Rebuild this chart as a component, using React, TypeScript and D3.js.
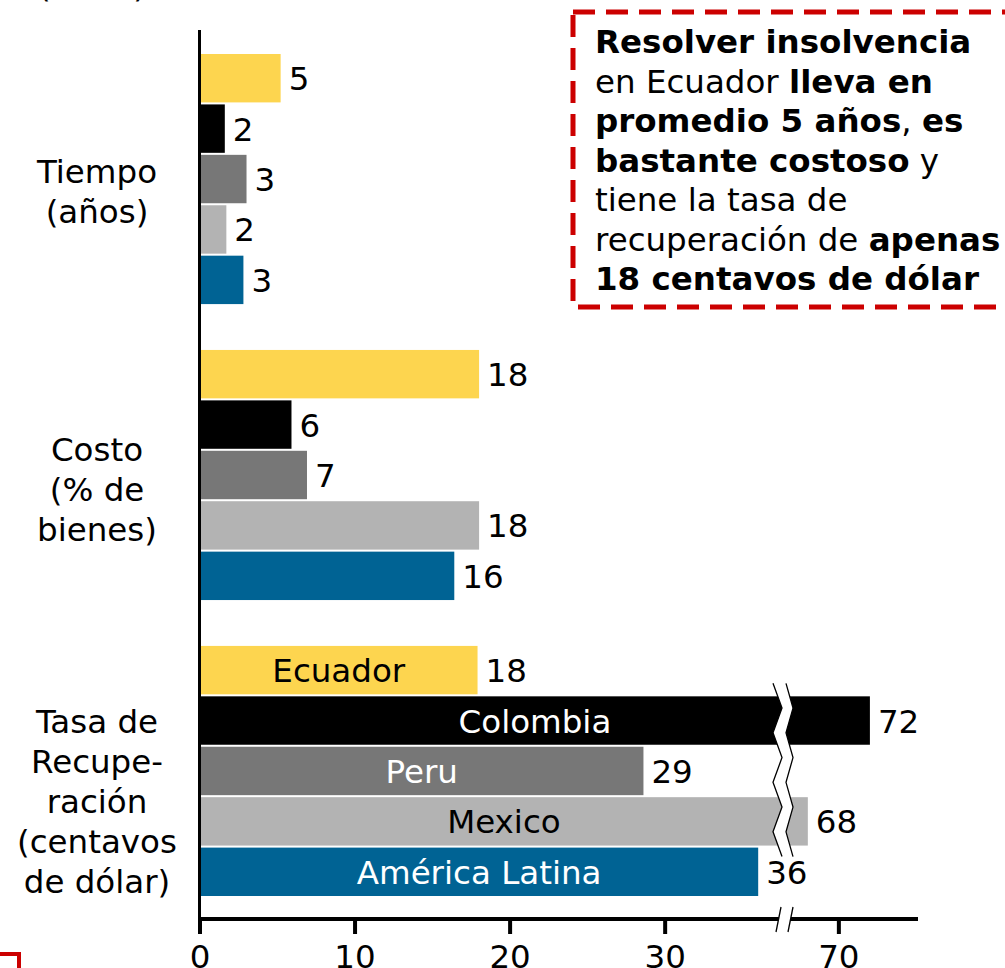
import React from 'react';
import * as d3 from 'd3';

const groups = ['Tiempo', 'Costo', 'Tasa'];
const groupLabels = [
  ['Tiempo', '(años)'],
  ['Costo', '(% de', 'bienes)'],
  ['Tasa de', 'Recupe-', 'ración', '(centavos', 'de dólar)'],
];
const countries = ['Ecuador', 'Colombia', 'Peru', 'Mexico', 'América Latina'];
const tiempo = [5.2, 1.6, 3.0, 1.7, 2.8];
const costo = [18, 5.9, 6.9, 18, 16.4];
const tasa = [17.9, 72, 28.6, 68, 36];
const xTicks = [0, 10, 20, 30, 70];

const noteLines = [
  [['Resolver insolvencia', true]],
  [['en Ecuador ', false], ['lleva en', true]],
  [['promedio 5 años', true], [', ', false], ['es', true]],
  [['bastante costoso', true], [' y', false]],
  [['tiene la tasa de', false]],
  [['recuperación de ', false], ['apenas', true]],
  [['18 centavos de dólar', true]],
];

const colors = ['#FDD54F', '#000000', '#777777', '#B3B3B3', '#006394'];
const innerText = ['#000', '#fff', '#fff', '#000', '#fff'];
const FONT = '"DejaVu Sans", Verdana, sans-serif';
const FS = 32.5;

const App = () => {
  const width = 1005;
  const height = 968;

  // broken x axis: two linear pieces
  const xLow = d3.scaleLinear().domain([0, 37.6]).range([200, 783]);
  const xHigh = d3.scaleLinear().domain([66.4, 75.1]).range([783, 918]);
  const x = (v: number) => (v <= 37.6 ? xLow(v) : xHigh(v));
  const breakX = xLow.range()[1];

  const yGroup = d3.scaleBand().domain(groups).range([54, 896]).paddingInner(0.155);
  const ySeries = d3
    .scaleBand()
    .domain(countries)
    .range([0, yGroup.bandwidth()])
    .paddingInner(0.04);

  const series = [tiempo, costo, tasa];
  const labelShift = [24, 26, 42];
  const axisY = 919;

  // zigzag across the large bars of the last group
  const g3 = yGroup('Tasa') as number;
  const zTop = g3 + (ySeries('Colombia') as number) - 13;
  const zBot = g3 + (ySeries('Mexico') as number) + ySeries.bandwidth() + 11;
  const zy = d3.range(8).map(i => zTop + (i * (zBot - zTop)) / 7);
  const left = zy.map((y, i) => [breakX + (i % 2 ? -1 : -10), y] as [number, number]);
  const right = zy.map((y, i) => [breakX + (i % 2 ? 10 : 3), y] as [number, number]);
  const line = d3.line();

  return (
    <div style={{ position: 'absolute', left: 0, top: 0 }}>
      <svg width={width} height={height} style={{ display: 'block' }} fontFamily={FONT}>
        <rect width={width} height={height} fill="#fff" />

        {/* cut-off title fragment */}
        <text x={92} y={-3} fontSize={FS} textAnchor="middle">(2019)</text>

        {groups.map((g, gi) => {
          const y0 = yGroup(g) as number;
          const lines = groupLabels[gi];
          const cy = y0 + yGroup.bandwidth() / 2;
          return (
            <g key={g}>
              {lines.map((t, i) => (
                <text
                  key={t}
                  x={97}
                  y={cy + (i - (lines.length - 1) / 2) * 40 + labelShift[gi]}
                  fontSize={FS}
                  textAnchor="middle"
                >
                  {t}
                </text>
              ))}
              {countries.map((c, ci) => {
                const v = series[gi][ci];
                const by = y0 + (ySeries(c) as number);
                const bh = ySeries.bandwidth();
                const xe = x(v);
                return (
                  <g key={c}>
                    <rect x={x(0)} y={by} width={xe - x(0)} height={bh} fill={colors[ci]} />
                    {gi === 2 && (
                      <text
                        x={(x(0) + xe) / 2}
                        y={by + bh / 2 + 12}
                        fontSize={FS}
                        textAnchor="middle"
                        fill={innerText[ci]}
                      >
                        {c}
                      </text>
                    )}
                    <text x={xe + 8} y={by + bh / 2 + 12} fontSize={FS}>
                      {Math.round(v)}
                    </text>
                  </g>
                );
              })}
            </g>
          );
        })}

        {/* bar break */}
        <path
          d={line([...left, ...right.slice().reverse()]) + 'Z'}
          fill="#fff"
          stroke="none"
        />
        <path d={line(left) as string} fill="none" stroke="#000" strokeWidth={1.3} />
        <path d={line(right) as string} fill="none" stroke="#000" strokeWidth={1.3} />

        {/* axes */}
        <line x1={199.5} x2={199.5} y1={30} y2={axisY + 2} stroke="#000" strokeWidth={3} />
        <line x1={198} x2={918} y1={axisY} y2={axisY} stroke="#000" strokeWidth={4} />
        {xTicks.map(t => (
          <g key={t}>
            <line x1={x(t)} x2={x(t)} y1={axisY} y2={axisY + 15} stroke="#000" strokeWidth={4} />
            <text x={x(t)} y={968} fontSize={FS} textAnchor="middle">
              {t}
            </text>
          </g>
        ))}
        <path
          d={`M${breakX - 7},${axisY + 13}L${breakX - 2},${axisY - 12}L${breakX + 10},${axisY - 12}L${breakX + 5},${axisY + 13}Z`}
          fill="#fff"
        />
        <line x1={breakX - 7} y1={axisY + 13} x2={breakX - 2} y2={axisY - 12} stroke="#000" strokeWidth={1.3} />
        <line x1={breakX + 5} y1={axisY + 13} x2={breakX + 10} y2={axisY - 12} stroke="#000" strokeWidth={1.3} />

        {/* note box */}
        <rect
          x={573}
          y={12}
          width={460}
          height={295}
          fill="none"
          stroke="#CC0000"
          strokeWidth={5}
          strokeDasharray="22 11"
        />
        {noteLines.map((parts, i) => (
          <text key={i} x={595} y={53 + i * 39.5} fontSize={FS}>
            {parts.map(([t, b], j) => (
              <tspan key={j} fontWeight={b ? 'bold' : 'normal'}>
                {t as string}
              </tspan>
            ))}
          </text>
        ))}

        {/* corner of another box */}
        <path d="M-5,954H19V980" fill="none" stroke="#CC0000" strokeWidth={4} />
      </svg>
    </div>
  );
};

export default App;
